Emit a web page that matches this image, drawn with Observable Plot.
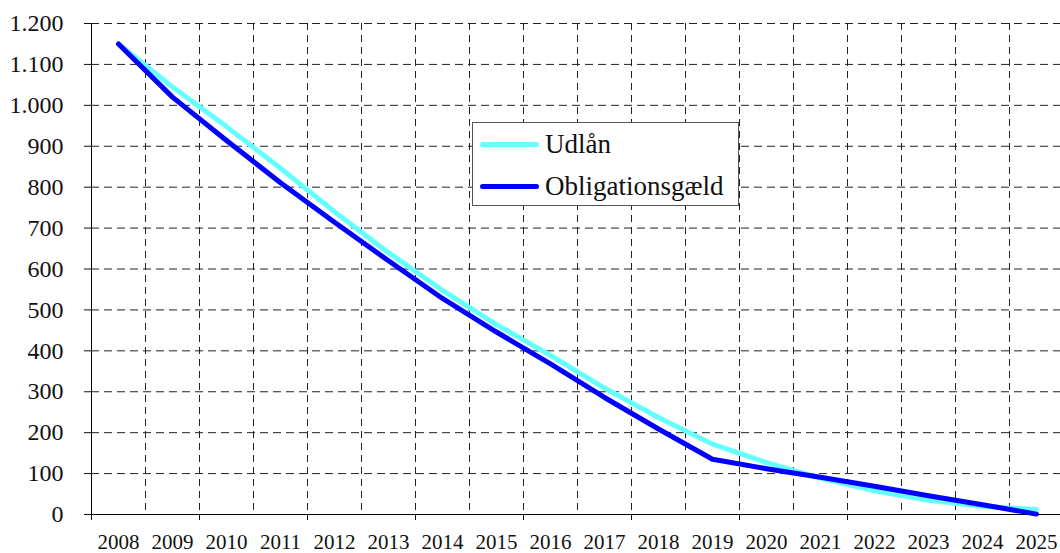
<!DOCTYPE html>
<html><head><meta charset="utf-8">
<script src="https://cdn.jsdelivr.net/npm/d3@7"></script>
<script src="https://cdn.jsdelivr.net/npm/@observablehq/plot@0.6"></script>
<style>
html,body{margin:0;padding:0;background:#fff;overflow:hidden}
#wrap{position:relative;width:1060px;height:553px}
#wrap svg, #wrap svg text{font-family:"Liberation Serif",serif !important}
#legend{position:absolute;left:472px;top:122px;width:265px;height:82px;border:1px solid #555;background:#fff;font-family:"Liberation Serif",serif;font-size:27px;color:#111}
.item{position:absolute;left:7px;height:30px;line-height:30px;white-space:nowrap}
.sw{display:inline-block;width:59px;height:5px;border-radius:3px;margin-right:6px;vertical-align:middle;position:relative;top:-2px}
</style></head><body><div id="wrap"></div>
<script>
const years = [2008,2009,2010,2011,2012,2013,2014,2015,2016,2017,2018,2019,2020,2021,2022,2023,2024,2025];
const udlaan = [1150,1045,948,846,740,640,548,464,389,309,237,172,127,89,58,35,20,12];
const obligationsgaeld = [1150,1020,914,811,714,620,528,446,368,286,209,135,112,91,69,46,24,1];
const yTicks = [0,100,200,300,400,500,600,700,800,900,1000,1100,1200];
const seriesNames = ["Udlån","Obligationsgæld"];
const seriesColors = ["#66ffff","#0000ff"];

const serif = "Liberation Serif";
const fmt = d3.formatLocale({decimal:",",thousands:".",grouping:[3],currency:["","kr."]}).format(",d");
const seriesValues = [udlaan, obligationsgaeld];
const data = seriesNames.flatMap((s,k)=>years.map((y,i)=>({year:y,value:seriesValues[k][i],series:s})));
const boundaries = years.slice(0,-1).map(y=>y+0.5);
const tickMarks = years.filter((y,i)=>i%2===0).map(y=>y-0.5);
const x0 = years[0]-0.5, x1 = years[years.length-1]+0.5;

const plot = Plot.plot({
  width:1060, height:553, marginLeft:91, marginRight:-3, marginTop:23, marginBottom:39,
  style:{fontFamily:serif, color:"#111", background:"#fff", overflow:"visible"},
  x:{type:"linear", domain:[x0,x1]},
  y:{domain:[0,1200]},
  marks:[
    Plot.gridY(yTicks.slice(1), {stroke:"#222", strokeOpacity:1, strokeDasharray:"8,5"}),
    Plot.gridX(boundaries, {stroke:"#222", strokeOpacity:1, strokeDasharray:"7,5"}),
    Plot.axisY(yTicks, {tickSize:7, tickPadding:21, tickFormat:fmt, fontSize:24, fontFamily:serif, label:null}),
    Plot.axisX(years, {tickSize:0, tickPadding:20, tickFormat:d=>String(d), fontSize:21, fontFamily:serif, label:null}),
    Plot.axisX(tickMarks, {tickSize:6, tickFormat:()=>"", label:null}),
    Plot.ruleX([x0], {stroke:"#000"}),
    Plot.ruleY([0], {stroke:"#000"}),
    ...seriesNames.map((s,k)=>Plot.line(data.filter(d=>d.series===s), {x:"year", y:"value", stroke:seriesColors[k], strokeWidth:5, strokeLinecap:"round", strokeLinejoin:"round"}))
  ]
});
d3.select(plot).selectAll("text").attr("font-family", serif).style("font-family", serif);
const wrap = document.getElementById("wrap");
wrap.appendChild(plot);
const legend = document.createElement("div");
legend.id = "legend";
seriesNames.forEach((s,k)=>{
  const it = document.createElement("div");
  it.className = "item";
  it.style.top = (k===0 ? 6 : 48) + "px";
  const sw = document.createElement("span");
  sw.className = "sw";
  sw.style.background = seriesColors[k];
  it.appendChild(sw);
  it.appendChild(document.createTextNode(s));
  legend.appendChild(it);
});
wrap.appendChild(legend);
</script></body></html>
